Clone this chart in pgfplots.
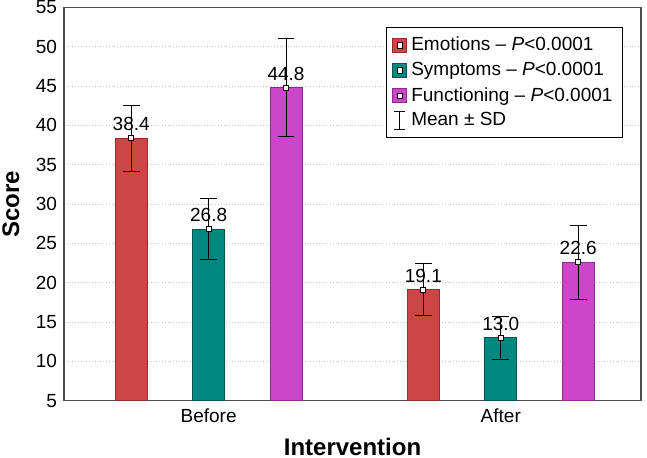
\documentclass[border=0pt]{standalone}
\usepackage{fontspec}
\setmainfont{Liberation Sans}
\usepackage{pgfplots}
\pgfplotsset{compat=1.18}

\definecolor{cEmo}{RGB}{205,70,70}
\definecolor{cEmoE}{RGB}{150,45,45}
\definecolor{cSym}{RGB}{0,136,128}
\definecolor{cSymE}{RGB}{0,85,80}
\definecolor{cFun}{RGB}{204,70,204}
\definecolor{cFunE}{RGB}{140,45,140}

\pgfplotsset{
  myleg/.style 2 args={legend image code/.code={%
     \draw[fill=#1, draw=#2, line width=0.5pt] (0pt,-3.4pt) rectangle (7pt,3.4pt);
     \draw[fill=white, draw=black, line width=0.4pt] (2.2pt,-1.3pt) rectangle (4.8pt,1.3pt);}},
  mybar/.style 2 args={ybar, bar shift=0pt, bar width=0.1095,
     fill=#1, draw=#2, line width=0.5pt,
     error bars/.cd, y dir=both, y explicit,
       error bar style={black, line width=0.5pt},
       error mark options={rotate=90, black, mark size=4.2pt, line width=0.5pt},
     /pgfplots/.cd,
     nodes near coords={\pgfmathprintnumber[fixed,fixed zerofill,precision=1]{\pgfplotspointmeta}},
     nodes near coords style={anchor=base, yshift=3.7pt, inner sep=0pt, black, font=\fontsize{9.5}{11}\selectfont},
     myleg={#1}{#2}},
}

\begin{document}
\begin{tikzpicture}
\begin{axis}[
  scale only axis, width=288.5pt, height=196.6pt,
  xmin=-0.495, xmax=1.48, ymin=5, ymax=55,
  ytick={5,10,...,55},
  xtick={0,1}, xticklabels={Before,After},
  major tick length=0pt,
  ymajorgrids, grid style={densely dotted, gray!45, line width=0.5pt},
  axis line style={gray!60!black, line width=0.6pt},
  tick label style={font=\fontsize{9.5}{11}\selectfont},
  /pgf/number format/assume math mode=true,
  yticklabel style={inner ysep=0pt},
  xticklabel style={anchor=center, inner sep=0pt, yshift=-7.5pt},
  xlabel={Intervention}, ylabel={Score},
  every axis x label/.style={at={(axis description cs:0.5,-0.118)}, anchor=center, inner sep=0pt, font=\bfseries\fontsize{12}{14}\selectfont},
  every axis y label/.style={at={(axis description cs:-0.0919,0.5)}, rotate=90, anchor=center, inner sep=0pt, font=\bfseries\fontsize{12}{14}\selectfont},
  legend style={at={(axis description cs:1,1)}, xshift=-9pt, yshift=-10pt, anchor=north east,
     draw=black, line width=0.5pt, font=\fontsize{9.5}{11}\selectfont,
     row sep=0.3pt, inner xsep=3pt, inner ysep=2.5pt},
  legend cell align=left,
  clip=true,
]
\addplot[mybar={cEmo}{cEmoE}] coordinates {(-0.265,38.4) +- (0,4.2) (0.735,19.1) +- (0,3.3)};
\addlegendentry{Emotions -- \textit{P}<0.0001}
\addplot[mybar={cSym}{cSymE}] coordinates {(0,26.8) +- (0,3.9) (1,13.0) +- (0,2.7)};
\addlegendentry{Symptoms -- \textit{P}<0.0001}
\addplot[mybar={cFun}{cFunE}] coordinates {(0.265,44.8) +- (0,6.2) (1.265,22.6) +- (0,4.7)};
\addlegendentry{Functioning -- \textit{P}<0.0001}
\addlegendimage{legend image code/.code={\draw[black, line width=0.5pt] (3.5pt,-4.5pt) -- (3.5pt,4.5pt) (0.7pt,4.5pt) -- (6.3pt,4.5pt) (0.7pt,-4.5pt) -- (6.3pt,-4.5pt);}}
\addlegendentry{Mean ± SD}
\addplot[only marks, mark=square*, mark size=1.25pt, mark options={fill=white, draw=black, line width=0.4pt}, forget plot]
  coordinates {(-0.265,38.4) (0,26.8) (0.265,44.8) (0.735,19.1) (1,13.0) (1.265,22.6)};
\end{axis}
\path ([shift={(-32pt,-28.65pt)}]current axis.south west) rectangle ([shift={(3pt,3.75pt)}]current axis.north east);
\end{tikzpicture}
\end{document}
